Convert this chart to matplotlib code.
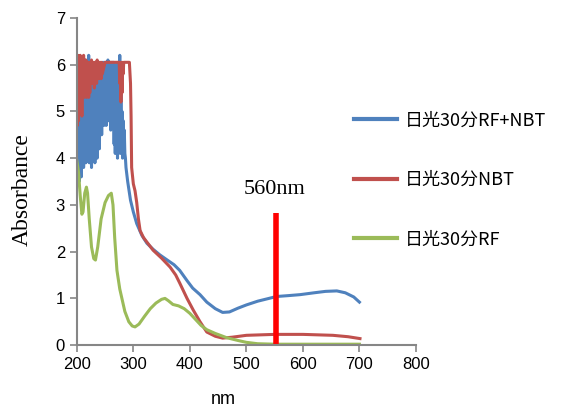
import matplotlib
matplotlib.use('Agg')
import matplotlib.pyplot as plt

# RF+NBT, noisy saturated region 200-290 nm (1 nm steps)
blue_noisy_x = list(range(200, 291))
blue_noisy_y = [4.0, 4.4, 3.6, 4.8, 3.5, 5.0, 3.7, 5.4, 3.6, 5.8,
                3.9, 6.0, 3.8, 5.5, 4.2, 6.1, 3.9, 5.6, 4.0, 6.0,
                4.1, 6.2, 3.9, 5.7, 4.3, 5.9, 3.8, 5.2, 4.4, 5.8,
                4.0, 5.4, 3.9, 6.0, 4.5, 5.5, 4.0, 5.9, 4.6, 5.7,
                4.2, 6.0, 4.8, 5.8, 4.5, 6.05, 4.9, 6.05, 4.7, 6.05,
                5.0, 6.05, 4.7, 6.05, 5.2, 6.1, 4.8, 6.05, 5.0, 6.05,
                4.6, 6.05, 5.3, 6.05, 4.9, 6.05, 4.3, 5.8, 4.1, 6.0,
                4.4, 5.6, 4.0, 6.05, 4.2, 5.5, 6.2, 4.1, 5.4, 4.3,
                5.0, 4.0, 4.8, 4.2, 4.6, 4.1, 4.0, 3.8, 3.7, 3.6,
                3.5]
blue_smooth_x = [295, 300, 306, 315, 324, 335, 347, 360, 372, 382, 395, 405,
                 418, 430, 445, 458, 470, 485, 500, 520, 540, 553, 575, 595,
                 620, 640, 660, 675, 690, 700]
blue_smooth_y = [3.1, 2.85, 2.6, 2.35, 2.18, 2.05, 1.93, 1.82, 1.72, 1.6, 1.38, 1.22,
                 1.08, 0.92, 0.78, 0.7, 0.71, 0.79, 0.86, 0.94, 1.0, 1.04, 1.06, 1.08,
                 1.12, 1.15, 1.16, 1.12, 1.03, 0.92]

# NBT
red_noisy_x = list(range(200, 246))
red_noisy_y = [6.1, 4.7, 6.2, 4.8, 6.1, 5.0, 6.2, 5.2, 6.05, 4.9,
               6.1, 5.4, 6.2, 5.3, 6.05, 5.6, 6.1, 5.3, 6.05, 5.5,
               6.05, 5.3, 6.0, 5.4, 6.05, 5.7, 6.1, 5.6, 6.05, 5.8,
               6.05, 5.5, 6.05, 5.9, 6.05, 5.6, 6.1, 5.8, 6.05, 5.7,
               6.05, 5.9, 6.05, 5.7, 6.05, 5.8]
red_rest_x = [250, 260, 270, 275, 276, 277, 278, 279, 280, 281, 282, 283, 293,
              295, 296, 297, 300, 303, 306, 309, 312, 318, 335, 350, 365, 375,
              382, 395, 406, 418, 430, 445, 458, 475, 500, 550, 600, 653, 680, 701]
red_rest_y = [6.05, 6.05, 6.05, 6.05, 5.6, 6.05, 5.2, 6.05, 5.4, 6.05, 5.8, 6.05, 6.05,
              5.6, 4.9, 3.8, 3.45, 3.3, 3.05, 2.7, 2.45, 2.3, 2.03, 1.86, 1.67, 1.5,
              1.33, 1.0, 0.75, 0.5, 0.28, 0.19, 0.15, 0.17, 0.21, 0.23, 0.23, 0.21, 0.18, 0.14]

# RF
green_x = [200, 203, 206, 209, 211, 214, 217, 219, 222, 226, 230, 233, 237, 243,
           250, 256, 261, 264, 267, 271, 276, 285, 292, 298, 303, 310, 320, 330,
           340, 350, 356, 362, 370, 380, 390, 400, 410, 420, 430, 445, 465, 485,
           500, 520, 550, 700]
green_y = [3.95, 3.7, 3.2, 2.8, 2.85, 3.25, 3.38, 3.25, 2.7, 2.1, 1.85, 1.82, 2.1, 2.7,
           3.05, 3.2, 3.25, 3.0, 2.3, 1.6, 1.2, 0.72, 0.5, 0.41, 0.39, 0.45, 0.62, 0.78,
           0.9, 0.98, 1.0, 0.95, 0.87, 0.84, 0.78, 0.68, 0.55, 0.42, 0.33, 0.25, 0.16, 0.1,
           0.06, 0.03, 0.02, 0.02]

labels = ['日光30分RF+NBT', '日光30分NBT', '日光30分RF']
colors = ['#4F81BD', '#C0504D', '#9BBB59']
mark_nm = 552
mark_top = 2.83

blue_x = blue_noisy_x + blue_smooth_x
blue_y = blue_noisy_y + blue_smooth_y
red_x = red_noisy_x + red_rest_x
red_y = red_noisy_y + red_rest_y

fig = plt.figure(figsize=(5.69, 4.07), dpi=100)
ax = fig.add_axes([0.135, 0.152, 0.596, 0.804])

ax.plot(blue_x, blue_y, color=colors[0], lw=2.2, label=labels[0])
ax.plot(red_x, red_y, color=colors[1], lw=2.2, label=labels[1])
ax.plot(green_x, green_y, color=colors[2], lw=2.2, label=labels[2])
ax.plot([mark_nm, mark_nm], [0, mark_top], color='#FF0000', lw=4, solid_capstyle='butt')
ax.text(mark_nm - 2, mark_top + 0.3, '560nm', family='Liberation Serif', fontsize=16,
        ha='center', va='bottom')

ax.set_xlim(200, 800)
ax.set_ylim(0, 7)
ax.set_xticks(range(200, 801, 100))
ax.set_yticks(range(0, 8))
for s in ['top', 'right']:
    ax.spines[s].set_visible(False)
for s in ['left', 'bottom']:
    ax.spines[s].set_color('#868686')
    ax.spines[s].set_linewidth(1.5)
ax.tick_params(direction='out', length=5, width=1.2, color='#868686', labelsize=12)
for t in ax.get_xticklabels() + ax.get_yticklabels():
    t.set_family('Liberation Sans')

ax.set_ylabel('Absorbance', family='Liberation Serif', fontsize=17)
ax.yaxis.set_label_coords(-0.13, 0.474)
fig.text(223 / 569, 1 - 400 / 407, 'nm', family='Liberation Sans', fontsize=13,
         ha='center', va='center')

leg = fig.legend(loc='center left', bbox_to_anchor=(354 / 569, 1 - 180 / 407),
                 frameon=False, borderaxespad=0, borderpad=0,
                 prop={'family': ['Noto Sans CJK SC', 'DejaVu Sans'], 'size': 13},
                 handlelength=2.4, handletextpad=0.4, labelspacing=2.3)
for line in leg.get_lines():
    line.set_linewidth(3)

fig.savefig('out.png', dpi=100)
